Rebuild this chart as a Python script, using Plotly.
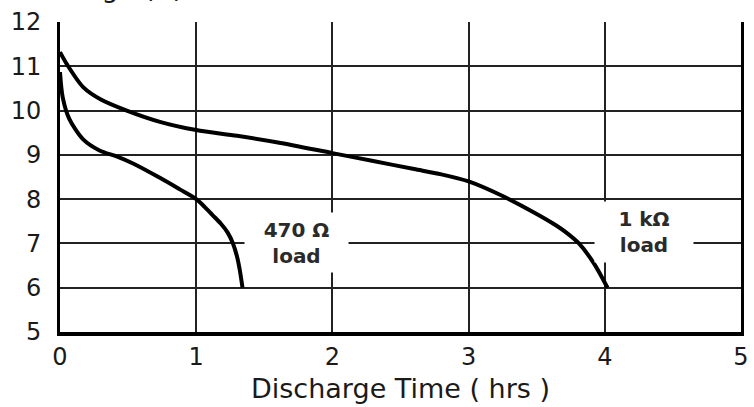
import plotly.graph_objects as go

# Discharge curves
t_1k = [0, 0.05, 0.17, 0.3, 0.49, 0.74, 1.0, 1.3, 1.6, 2.0, 2.3, 2.6, 2.8, 3.0, 3.25, 3.48, 3.62, 3.72, 3.81, 3.92, 4.02]
v_1k = [11.32, 11.05, 10.53, 10.25, 10.0, 9.74, 9.56, 9.43, 9.28, 9.04, 8.86, 8.68, 8.56, 8.4, 8.07, 7.7, 7.45, 7.24, 7.0, 6.55, 6.0]

t_470 = [0, 0.02, 0.07, 0.17, 0.29, 0.42, 0.54, 0.74, 0.88, 1.0, 1.06, 1.12, 1.18, 1.23, 1.27, 1.3, 1.32, 1.34]
v_470 = [10.87, 10.3, 9.8, 9.35, 9.1, 8.96, 8.8, 8.47, 8.22, 8.0, 7.83, 7.64, 7.45, 7.25, 7.0, 6.7, 6.4, 6.0]

x_ticks = [0, 1, 2, 3, 4, 5]
y_ticks = [5, 6, 7, 8, 9, 10, 11, 12]

label_470 = "<b>470 Ω</b><br><b>load</b>"
label_1k = "<b>1 kΩ</b><br><b>load</b>"
x_title = "Discharge Time ( hrs )"
y_title = "Voltage (V)"

FONT = "DejaVu Sans"
TXT = "#1a1a1a"

fig = go.Figure()
line_style = dict(color="black", width=4, shape="spline", smoothing=0.8)
fig.add_trace(go.Scatter(x=t_1k, y=v_1k, mode="lines", line=line_style, showlegend=False))
fig.add_trace(go.Scatter(x=t_470, y=v_470, mode="lines", line=line_style, showlegend=False))

fig.add_annotation(x=1.74, y=7.02, text=label_470, showarrow=False, bgcolor="white",
                   width=97, height=53, borderpad=3,
                   font=dict(family=FONT, size=20, color="#2a2a2a"), xref="x", yref="y")
fig.add_annotation(x=4.29, y=7.26, text=label_1k, showarrow=False, bgcolor="white",
                   width=92, height=54, borderpad=3,
                   font=dict(family=FONT, size=20, color="#2a2a2a"), xref="x", yref="y")

fig.add_annotation(x=(32 - 60) / 681, y=1.056, xref="paper", yref="paper", text=y_title, showarrow=False,
                   xanchor="left", yanchor="bottom", font=dict(family=FONT, size=27, color=TXT))

fig.update_layout(
    width=754, height=407,
    margin=dict(l=60, r=13, t=22, b=75),
    paper_bgcolor="white", plot_bgcolor="white",
    xaxis=dict(range=[0, 5], tickvals=x_ticks, ticks="", showgrid=True, gridcolor="#222", gridwidth=2,
               showline=True, linecolor="black", linewidth=4, zeroline=False, automargin=False,
               tickfont=dict(family=FONT, size=24, color=TXT), ticklabelstandoff=0,
               title=dict(text=x_title, font=dict(family=FONT, size=27, color=TXT), standoff=10)),
    yaxis=dict(range=[5, 12], tickvals=y_ticks, ticks="", showgrid=True, gridcolor="#222", gridwidth=2,
               showline=True, mirror=True, linecolor="black", linewidth=3, zeroline=False, automargin=False,
               tickfont=dict(family=FONT, size=24, color=TXT), ticklabelstandoff=11),
)

# remove the default page margin so the figure sits at the window's top-left corner
fig.write_html("out.html", config={"displayModeBar": False},
               post_script="document.body.style.margin='0';")
